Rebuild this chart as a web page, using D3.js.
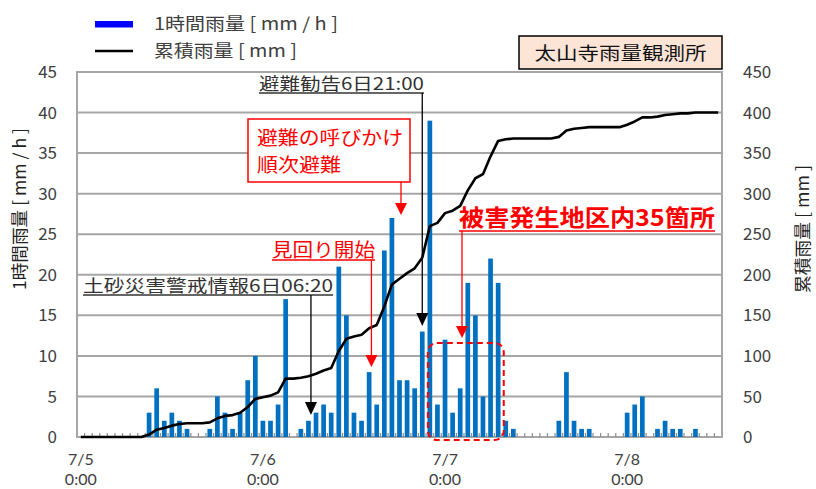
<!DOCTYPE html>
<html><head><meta charset="utf-8">
<script src="https://cdn.jsdelivr.net/npm/d3@7"></script>
<style>body{margin:0;background:#fff} svg{display:block}</style>
</head><body><svg id="c" width="816" height="489"></svg>
<script>
// hourly categories: hour index since 7/5 0:00
const categories = d3.range(85);
// 1時間雨量 [mm/h]
const hourly = [0,0,0,0,0,0,0,0,0, 3,6,2,3,2,1, 0,0, 1,5,3,1,3,7,10,2,2,4,17, 0,
  1,2,3,4,3,21,15,3,2,8,4,23,27,7,7,6,13,39, 4,12,3,6,19,15,5,22,19,2,1,
  0,0,0,0,0, 2,8,2,1,1, 0,0,0,0, 3,4,5, 0, 1,2,1,1, 0, 1, 0,0,0];
// 累積雨量 [mm]
const cumulative = [0,0,0,0,0,0,0,0,0, 3,9,11,14,16,17, 17,17, 18,23,26,27,30,37,47,49,51,55,72, 72,
  73,75,78,82,85,106,121,124,126,134,138,161,188,195,202,208,221,260, 264,276,279,285,304,319,324,346,365,367,368,
  368,368,368,368,368, 370,378,380,381,382, 382,382,382,382, 385,389,394, 394, 395,397,398,399, 399, 400, 400,400,400];
const dateTickIndex = [0,24,48,72];
const dateTickLabels = [["7/5","0:00"],["7/6","0:00"],["7/7","0:00"],["7/8","0:00"]];
const leftTicks = [0,5,10,15,20,25,30,35,40,45];
const rightTicks = [0,50,100,150,200,250,300,350,400,450];
const legendLabels = ["1時間雨量 [ mm / h ]","累積雨量 [ mm ]"];
const leftTitle = "1時間雨量 [ mm / h ]";
const rightTitle = "累積雨量 [ mm ]";
const stationTitle = "太山寺雨量観測所";

const F = "'Noto Sans CJK JP','Noto Sans',sans-serif";
const FD = "Lato,'Open Sans',sans-serif";
const svg = d3.select("#c");
const L=77, R=722, T=72, B=437;
const x = d3.scaleBand().domain(categories).range([L,R]).paddingInner(0.38).paddingOuter(0.19);
const xc = i => x(Math.floor(i)) + x.bandwidth()/2 + (i-Math.floor(i))*x.step();
const yL = d3.scaleLinear().domain([0,45]).range([B,T]);
const yR = d3.scaleLinear().domain([0,450]).range([B,T]);
const grid = "#a6a6a6", txt = "#404040";

// gridlines
svg.append("g").selectAll("line").data(leftTicks).join("line")
  .attr("x1",L).attr("x2",R).attr("y1",d=>yL(d)).attr("y2",d=>yL(d))
  .attr("stroke",grid).attr("stroke-width",2);
// plot side borders
svg.append("line").attr("x1",L).attr("x2",L).attr("y1",T-1).attr("y2",B+1).attr("stroke",grid).attr("stroke-width",2);
svg.append("line").attr("x1",R).attr("x2",R).attr("y1",T-1).attr("y2",B+1).attr("stroke",grid).attr("stroke-width",2);

// bars
svg.append("g").selectAll("rect").data(hourly.map((v,i)=>({v,i})).filter(d=>d.v>0)).join("rect")
  .attr("x",d=>x(d.i)).attr("width",x.bandwidth())
  .attr("y",d=>yL(d.v)).attr("height",d=>B-yL(d.v)).attr("fill","#0070C0");

// minor ticks at category boundaries
svg.append("g").selectAll("line").data(d3.range(1,85)).join("line")
  .attr("x1",d=>x(d)-x.step()*x.paddingInner()/2).attr("x2",d=>x(d)-x.step()*x.paddingInner()/2)
  .attr("y1",B-4).attr("y2",B).attr("stroke","#8c8c8c").attr("stroke-width",1.2);

// cumulative line
svg.append("path").datum(cumulative)
  .attr("d", d3.line().x((d,i)=>xc(i)).y(d=>yR(d)))
  .attr("fill","none").attr("stroke","#000").attr("stroke-width",2.6).attr("stroke-linejoin","round");

// left axis labels
svg.append("g").selectAll("text").data(leftTicks).join("text")
  .attr("x",57).attr("y",d=>yL(d)).attr("dy","0.36em").attr("text-anchor","end")
  .attr("font-family",F).attr("font-size",17).attr("fill",txt).text(d=>d);
// right axis labels
svg.append("g").selectAll("text").data(rightTicks).join("text")
  .attr("x",743).attr("y",d=>yR(d)).attr("dy","0.36em").attr("text-anchor","start")
  .attr("font-family",F).attr("font-size",17).attr("fill",txt).text(d=>d);
// bottom date labels
const dl = svg.append("g").selectAll("g").data(dateTickIndex).join("g");
dl.append("text").attr("x",d=>xc(d)).attr("y",465).attr("text-anchor","middle")
  .attr("font-family",FD).attr("font-size",16).attr("fill",txt).text((d,i)=>dateTickLabels[i][0]);
dl.append("text").attr("x",d=>xc(d)).attr("y",485).attr("text-anchor","middle")
  .attr("font-family",FD).attr("font-size",16).attr("fill",txt).text((d,i)=>dateTickLabels[i][1]);

// axis titles
svg.append("text").attr("transform","translate(26,209) rotate(-90)").attr("text-anchor","middle")
  .attr("font-family",F).attr("font-size",17).attr("fill","#222").attr("textLength",162).attr("lengthAdjust","spacingAndGlyphs").text(leftTitle);
svg.append("text").attr("transform","translate(809,229) rotate(-90)").attr("text-anchor","middle")
  .attr("font-family",F).attr("font-size",17).attr("fill","#222").attr("textLength",128).attr("lengthAdjust","spacingAndGlyphs").text(rightTitle);

// legend
svg.append("rect").attr("x",95).attr("y",21).attr("width",38).attr("height",6.5).attr("fill","#0000ff");
svg.append("line").attr("x1",95).attr("x2",133).attr("y1",51).attr("y2",51).attr("stroke","#000").attr("stroke-width",2.6);
svg.append("text").attr("x",154).attr("y",30).attr("font-family",F).attr("font-size",17).attr("fill",txt)
  .attr("textLength",184).attr("lengthAdjust","spacingAndGlyphs").text(legendLabels[0]);
svg.append("text").attr("x",154).attr("y",57).attr("font-family",F).attr("font-size",17).attr("fill",txt)
  .attr("textLength",143).attr("lengthAdjust","spacingAndGlyphs").text(legendLabels[1]);

// station title box
svg.append("rect").attr("x",519).attr("y",36).attr("width",203).attr("height",33)
  .attr("fill","#fce4d6").attr("stroke","#000").attr("stroke-width",1.5);
svg.append("text").attr("x",620.5).attr("y",59.5).attr("text-anchor","middle").attr("font-family",F)
  .attr("font-size",18).attr("fill","#111").attr("textLength",172).attr("lengthAdjust","spacingAndGlyphs").text(stationTitle);

// arrows helper
function arrow(xp, y1, tip, color, hw, hh){
  svg.append("line").attr("x1",xp).attr("x2",xp).attr("y1",y1).attr("y2",tip-hh+1)
    .attr("stroke",color).attr("stroke-width",1.3);
  svg.append("path").attr("d",`M${xp-hw},${tip-hh}L${xp+hw},${tip-hh}L${xp},${tip}Z`).attr("fill",color);
}
function utext(t, x0, base, w, size, color, weight, uy){
  svg.append("text").attr("x",x0).attr("y",base).attr("font-family",F).attr("font-size",size)
    .attr("font-weight",weight).attr("fill",color).attr("textLength",w).attr("lengthAdjust","spacingAndGlyphs").text(t);
  svg.append("line").attr("x1",x0).attr("x2",x0+w).attr("y1",uy).attr("y2",uy).attr("stroke",color).attr("stroke-width",1.3);
}

// 土砂災害警戒情報
utext("土砂災害警戒情報6日06:20", 83, 292, 250, 17, "#333", 400, 295);
arrow(xc(30.33), 295, 415, "#000", 6, 13);
// 避難勧告
utext("避難勧告6日21:00", 259, 90, 165, 17, "#333", 400, 93);
arrow(xc(45), 93, 326, "#000", 6, 13);
// 避難の呼びかけ box
svg.append("rect").attr("x",248).attr("y",119).attr("width",162).attr("height",63)
  .attr("fill","#fff").attr("stroke","#ff0000").attr("stroke-width",1.5);
svg.append("text").attr("x",257).attr("y",145).attr("font-family",F).attr("font-size",19).attr("fill","#ff0000")
  .attr("textLength",146).attr("lengthAdjust","spacingAndGlyphs").text("避難の呼びかけ");
svg.append("text").attr("x",257).attr("y",172).attr("font-family",F).attr("font-size",19).attr("fill","#ff0000")
  .attr("textLength",84).attr("lengthAdjust","spacingAndGlyphs").text("順次避難");
arrow(401, 182, 215, "#ff0000", 6, 12);
// 見回り開始
utext("見回り開始", 272, 257, 103, 19, "#ff0000", 400, 260);
arrow(xc(38.3), 260, 367, "#ff0000", 6, 12);
// 被害発生地区内35箇所
utext("被害発生地区内35箇所", 459, 226, 256, 23, "#ff0000", 700, 231);
arrow(462, 231, 338, "#ff0000", 6, 12);
// dashed box
svg.append("rect").attr("x",xc(46)-2).attr("y",343).attr("width",xc(56)-2-(xc(46)-2)).attr("height",97)
  .attr("rx",9).attr("fill","none").attr("stroke","#ff0000").attr("stroke-width",2).attr("stroke-dasharray","6,4");
</script></body></html>
